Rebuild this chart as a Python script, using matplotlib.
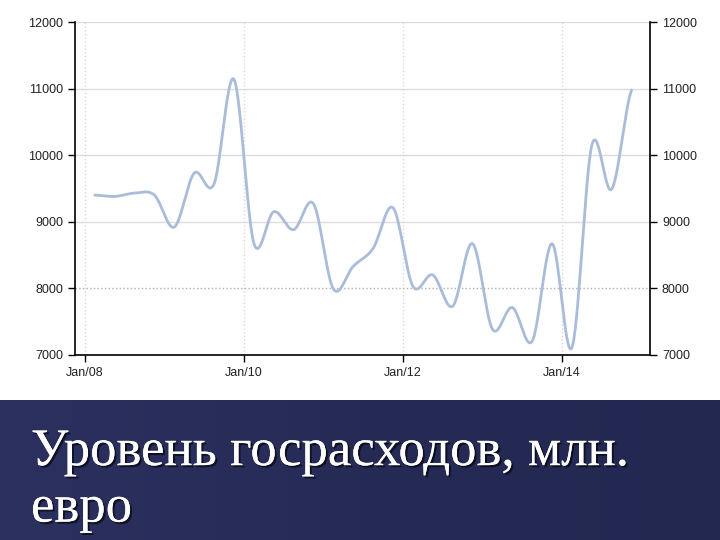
import numpy as np
import matplotlib.pyplot as plt
import matplotlib.patheffects as pe

# quarterly government spending, mln EUR (Q1 2008 .. Q4 2014)
quarters = [f"{y}Q{q}" for y in range(2008, 2015) for q in range(1, 5)]
spending = [9400, 9380, 9430, 9400, 8920, 9730, 9570, 11140,
            8680, 9150, 8880, 9270, 7990, 8330, 8600, 9210,
            8030, 8200, 7730, 8670, 7385, 7710, 7205, 8670,
            7110, 10150, 9490, 10980]

tick_months = [0, 24, 48, 72]
tick_labels = ["Jan/08", "Jan/10", "Jan/12", "Jan/14"]
y_ticks = [7000, 8000, 9000, 10000, 11000, 12000]
title = "Уровень госрасходов, млн.\nевро"


def quarter_month(label):
    # middle of the quarter, in months since Jan 2008
    year, q = int(label[:4]), int(label[-1])
    return (year - 2008) * 12 + (q - 1) * 3 + 1.5


def smooth_line(x, y, steps=30):
    # Catmull-Rom curve through the points
    x = np.asarray(x, float)
    y = np.asarray(y, float)
    px = np.concatenate([[2 * x[0] - x[1]], x, [2 * x[-1] - x[-2]]])
    py = np.concatenate([[y[0]], y, [y[-1]]])
    t = np.linspace(0, 1, steps, endpoint=False)
    xs, ys = [], []
    for i in range(1, len(px) - 2):
        for p, out in ((px, xs), (py, ys)):
            p0, p1, p2, p3 = p[i - 1], p[i], p[i + 1], p[i + 2]
            out.append(0.5 * (2 * p1 + (-p0 + p2) * t
                              + (2 * p0 - 5 * p1 + 4 * p2 - p3) * t ** 2
                              + (-p0 + 3 * p1 - 3 * p2 + p3) * t ** 3))
    xs = np.concatenate(xs + [[x[-1]]])
    ys = np.concatenate(ys + [[y[-1]]])
    return xs, ys


months = [quarter_month(q) for q in quarters]
xs, ys = smooth_line(months, spending)

fig = plt.figure(figsize=(7.2, 5.4), dpi=100)
fig.patch.set_facecolor("white")

# dark band with the slide title
band = fig.add_axes([0, 0, 1, 0.259])
band.set_xlim(0, 1)
band.set_ylim(0, 1)
grad = np.linspace(0, 1, 256).reshape(1, -1)
band.imshow(grad, extent=[0, 1, 0, 1], aspect="auto",
            cmap=plt.matplotlib.colors.LinearSegmentedColormap.from_list(
                "b", ["#2c305f", "#262b56", "#232851"]))
band.axis("off")
band.text(0.043, 0.80, title, color="white", fontsize=38,
          family=["Liberation Serif", "DejaVu Serif"], va="top", ha="left",
          linespacing=1.23,
          path_effects=[pe.withSimplePatchShadow(offset=(1.5, -1.5), shadow_rgbFace="black", alpha=0.6),
                        pe.Normal()])

ax = fig.add_axes([0.104, 0.343, 0.799, 0.616])
ax.plot(xs, ys, color="#a9bcd9", linewidth=2.0, solid_capstyle="round")

ax.set_xlim(-1.5, 85.3)
ax.set_ylim(7000, 12000)
ax.set_xticks(tick_months)
ax.set_xticklabels(tick_labels)
ax.set_yticks(y_ticks)

font = ["Liberation Sans Narrow", "Liberation Sans", "DejaVu Sans"]
ax.tick_params(axis="both", direction="out", length=5, width=1, labelsize=9,
               colors="black", labelcolor="#222222")
ax.tick_params(axis="y", right=True, labelright=True)
for lab in ax.get_xticklabels() + ax.get_yticklabels():
    lab.set_family(font)
for t in ax.yaxis.get_major_ticks():
    t.label2.set_family(font)

ax.spines["top"].set_visible(False)
for s in ["left", "right", "bottom"]:
    ax.spines[s].set_linewidth(1.2)

ax.yaxis.grid(True, color="#dcdcdc", linewidth=1.0, linestyle="-")
ax.xaxis.grid(True, color="#d8d8d8", linewidth=1.0, linestyle=":")
ax.get_ygridlines()[1].set_linestyle(":")
ax.get_ygridlines()[1].set_color("#b0b0b0")
ax.set_axisbelow(True)

fig.savefig("out.png", dpi=100)
